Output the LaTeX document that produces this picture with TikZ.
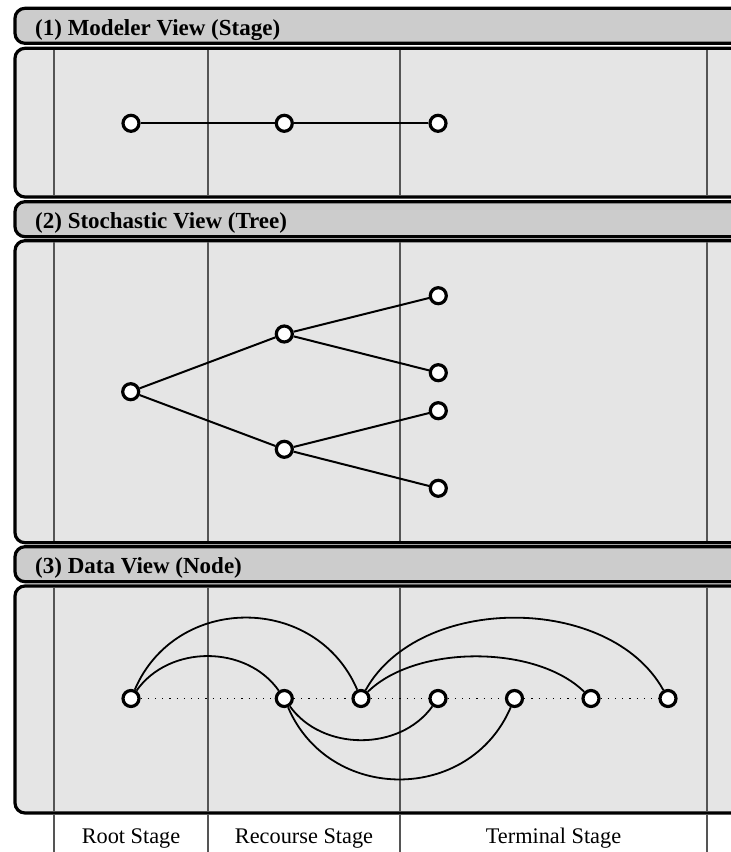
\documentclass[tikz,border=0pt]{standalone}
\usepackage{fontspec}
\setmainfont{Liberation Serif}
\definecolor{hdrgray}{RGB}{204,204,204}
\definecolor{bodygray}{RGB}{229,229,229}
\definecolor{divgray}{RGB}{85,85,85}
\begin{document}
\begin{tikzpicture}[x=1pt,y=-1pt,
  hdr/.style={fill=hdrgray, draw=black, line width=3.2pt, rounded corners=10pt},
  bdy/.style={fill=bodygray, draw=black, line width=3.2pt, rounded corners=10pt},
  divider/.style={draw=divgray, line width=1.1pt},
  vtx/.style={circle, draw=black, fill=white, line width=3.2pt, minimum size=16pt, inner sep=0pt},
  edgeline/.style={draw=black, line width=2pt},
  arcline/.style={draw=black, line width=1.8pt},
  dotline/.style={draw=black, line width=1pt, dash pattern=on 1.2pt off 6pt},
  title/.style={anchor=base west, font=\fontsize{23}{25}\selectfont\bfseries, inner sep=0pt},
  stagelbl/.style={anchor=base, font=\fontsize{22.3}{24}\selectfont, inner sep=0pt}]
\useasboundingbox (0,0) rectangle (731,852);
\clip (0,0) rectangle (731,852);

% panels
\draw[hdr] (15,8.3) rectangle (780,43.3);
\draw[bdy] (15,48.3) rectangle (780,197);
\draw[hdr] (15,201.7) rectangle (780,236.7);
\draw[bdy] (15,240.7) rectangle (780,542.7);
\draw[hdr] (15,546.7) rectangle (780,581.7);
\draw[bdy] (15,586) rectangle (780,813);

% stage dividers
\foreach \x in {54,208,400,707} {
  \draw[divider] (\x,49.9) -- (\x,195.4);
  \draw[divider] (\x,242.3) -- (\x,541.1);
  \draw[divider] (\x,587.6) -- (\x,811.4);
  \draw[divider] (\x,814.6) -- (\x,852);
}

% titles
\node[title] (t1) at (35,35.5) {(1) Modeler View (Stage)};
\node[title] (t2) at (35,228.8) {(2) Stochastic View (Tree)};
\node[title] (t3) at (35,573.9) {(3) Data View (Node)};

% stage labels
\node[stagelbl] (l1) at (131,843) {Root Stage};
\node[stagelbl] (l2) at (304,843) {Recourse Stage};
\node[stagelbl] (l3) at (553.5,843) {Terminal Stage};

% (1) modeler view
\node[vtx] (m1) at (131,123.3) {};
\node[vtx] (m2) at (284.3,123.3) {};
\node[vtx] (m3) at (438,123.3) {};
\draw[edgeline] (m1) -- (m2);
\draw[edgeline] (m2) -- (m3);

% (2) stochastic tree
\node[vtx] (r) at (130.7,391.7) {};
\node[vtx] (a) at (284.3,334) {};
\node[vtx] (b) at (284.3,449.3) {};
\node[vtx] (a1) at (438.3,295.7) {};
\node[vtx] (a2) at (438.3,372.7) {};
\node[vtx] (b1) at (438.3,410.7) {};
\node[vtx] (b2) at (438.3,488.3) {};
\draw[edgeline] (r) -- (a);
\draw[edgeline] (r) -- (b);
\draw[edgeline] (a) -- (a1);
\draw[edgeline] (a) -- (a2);
\draw[edgeline] (b) -- (b1);
\draw[edgeline] (b) -- (b2);

% (3) data view
\node[vtx] (d1) at (131,698.5) {};
\node[vtx] (d2) at (284.3,698.5) {};
\node[vtx] (d3) at (361,698.5) {};
\node[vtx] (d4) at (438,698.5) {};
\node[vtx] (d5) at (514.5,698.5) {};
\node[vtx] (d6) at (591,698.5) {};
\node[vtx] (d7) at (668,698.5) {};
\draw[dotline] (d1) -- (d2);
\draw[dotline] (d2) -- (d3);
\draw[dotline] (d3) -- (d4);
\draw[dotline] (d4) -- (d5);
\draw[dotline] (d5) -- (d6);
\draw[dotline] (d6) -- (d7);

\draw[arcline] (d1) .. controls +(45,-105) and +(-45,-105) .. (d3);
\draw[arcline] (d1) .. controls +(38,-54) and +(-38,-54) .. (d2);
\draw[arcline] (d3) .. controls +(58,-105) and +(-58,-105) .. (d7);
\draw[arcline] (d3) .. controls +(55,-54) and +(-55,-54) .. (d6);
\draw[arcline] (d2) .. controls +(38,53) and +(-38,53) .. (d4);
\draw[arcline] (d2) .. controls +(45,105) and +(-45,105) .. (d5);
\end{tikzpicture}
\end{document}
